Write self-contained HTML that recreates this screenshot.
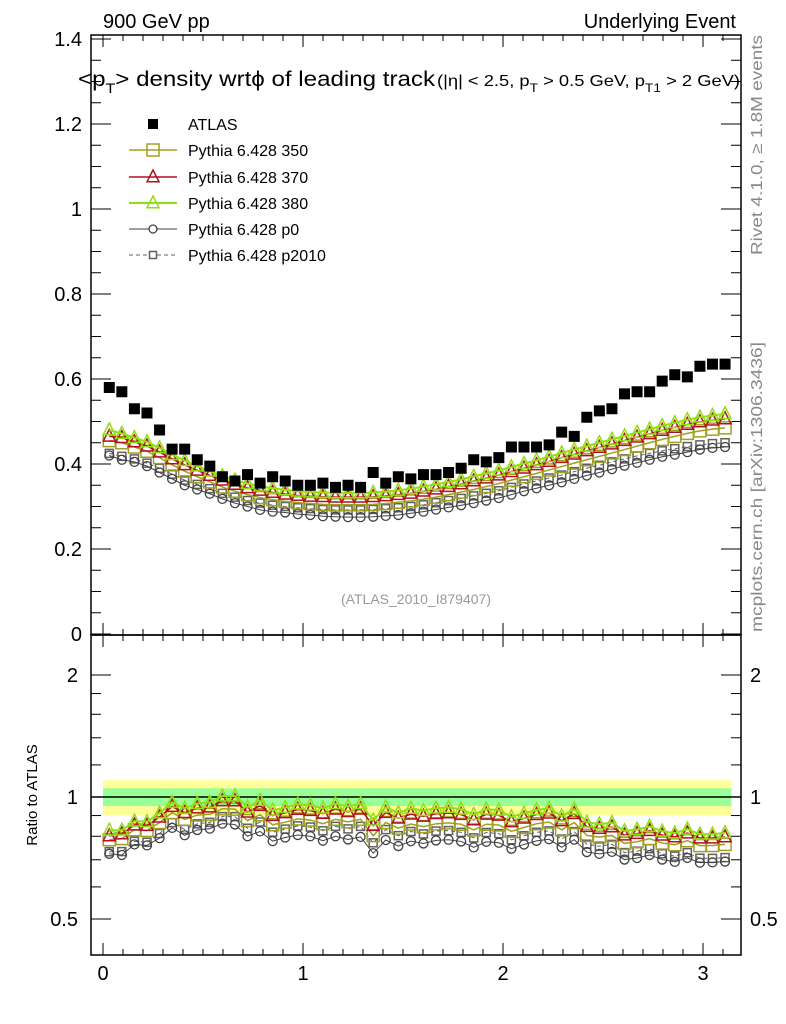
<!DOCTYPE html>
<html><head><meta charset="utf-8"><style>
body{margin:0;background:#fff;}
svg{display:block;font-family:"Liberation Sans",sans-serif;}
</style></head><body>
<svg id="chart" width="786" height="1024" viewBox="0 0 786 1024" xmlns="http://www.w3.org/2000/svg">
<g id="bands"></g>
<g id="axes"></g>
<g id="series"></g>
<g id="legend"></g>
<text x="103" y="28" font-size="20">900 GeV pp</text>
<text x="736" y="28" font-size="20" text-anchor="end">Underlying Event</text>
<text x="78" y="86" font-size="21" textLength="357" lengthAdjust="spacingAndGlyphs">&lt;p<tspan font-size="14" dy="7">T</tspan><tspan dy="-7">&gt; density wrt</tspan><tspan>ϕ of leading track</tspan></text>
<text x="437" y="86" font-size="16" textLength="303" lengthAdjust="spacingAndGlyphs">(|η| &lt; 2.5, p<tspan font-size="12" dy="6">T</tspan><tspan dy="-6"> &gt; 0.5 GeV, p</tspan><tspan font-size="12" dy="6">T1</tspan><tspan dy="-6"> &gt; 2 GeV)</tspan></text>
<text x="416" y="604" font-size="14" fill="#999" text-anchor="middle">(ATLAS_2010_I879407)</text>
<text transform="translate(762,145) rotate(-90)" font-size="16" fill="#888" text-anchor="middle" textLength="220" lengthAdjust="spacingAndGlyphs">Rivet 4.1.0, ≥ 1.8M events</text>
<text transform="translate(762,487) rotate(-90)" font-size="16" fill="#888" text-anchor="middle" textLength="290" lengthAdjust="spacingAndGlyphs">mcplots.cern.ch [arXiv:1306.3436]</text>
<text transform="translate(37,795) rotate(-90)" font-size="15" text-anchor="middle">Ratio to ATLAS</text>
</svg>
<script>
const atlas=[0.58,0.57,0.53,0.52,0.48,0.435,0.435,0.41,0.395,0.37,0.36,0.375,0.355,0.37,0.36,0.35,0.35,0.355,0.345,0.35,0.345,0.38,0.355,0.37,0.365,0.375,0.375,0.38,0.39,0.41,0.405,0.415,0.44,0.44,0.44,0.445,0.475,0.465,0.51,0.525,0.53,0.565,0.57,0.57,0.595,0.61,0.605,0.63,0.635,0.635];
const p0=[0.42,0.41,0.405,0.395,0.38,0.365,0.35,0.34,0.33,0.318,0.308,0.3,0.292,0.288,0.286,0.282,0.28,0.277,0.276,0.275,0.275,0.276,0.278,0.28,0.284,0.288,0.293,0.298,0.303,0.308,0.314,0.32,0.328,0.336,0.343,0.35,0.357,0.365,0.373,0.38,0.388,0.396,0.403,0.41,0.417,0.422,0.428,0.434,0.438,0.44];
const p2010=[0.425,0.418,0.412,0.402,0.39,0.376,0.362,0.352,0.342,0.331,0.322,0.314,0.308,0.303,0.3,0.297,0.295,0.293,0.292,0.292,0.292,0.293,0.295,0.297,0.3,0.304,0.309,0.314,0.319,0.325,0.331,0.337,0.345,0.353,0.36,0.367,0.374,0.382,0.39,0.397,0.405,0.412,0.419,0.425,0.431,0.436,0.441,0.445,0.448,0.45];
const t350=[0.455,0.45,0.44,0.43,0.415,0.398,0.383,0.37,0.358,0.346,0.336,0.328,0.321,0.316,0.312,0.309,0.307,0.305,0.304,0.304,0.304,0.305,0.307,0.31,0.313,0.317,0.322,0.328,0.334,0.34,0.347,0.354,0.362,0.37,0.378,0.386,0.394,0.402,0.41,0.418,0.426,0.434,0.442,0.45,0.458,0.465,0.472,0.478,0.482,0.485];
const t370=[0.465,0.462,0.452,0.442,0.428,0.412,0.398,0.385,0.373,0.362,0.352,0.344,0.338,0.333,0.329,0.326,0.324,0.323,0.322,0.322,0.322,0.323,0.325,0.328,0.331,0.336,0.341,0.347,0.353,0.36,0.367,0.374,0.382,0.39,0.398,0.406,0.415,0.423,0.431,0.439,0.447,0.455,0.463,0.471,0.479,0.486,0.493,0.499,0.503,0.506];
const t380=[0.48,0.472,0.462,0.452,0.438,0.422,0.408,0.395,0.383,0.372,0.362,0.354,0.348,0.343,0.339,0.336,0.334,0.333,0.332,0.332,0.332,0.333,0.335,0.338,0.342,0.347,0.352,0.358,0.364,0.371,0.378,0.385,0.393,0.401,0.409,0.417,0.426,0.434,0.442,0.45,0.458,0.466,0.474,0.482,0.49,0.497,0.504,0.51,0.514,0.518];
const yTicksMain=[0,0.2,0.4,0.6,0.8,1,1.2,1.4];
const yTickLabelsMain=["0","0.2","0.4","0.6","0.8","1","1.2","1.4"];
const yTicksRatio=[0.5,1,2];
const yTickLabelsRatio=["0.5","1","2"];
const xTicks=[0,1,2,3];
const xTickLabels=["0","1","2","3"];
const yellowBand=0.1, greenBand=0.05;

const NS="http://www.w3.org/2000/svg";
const L=91,R=741,T=35,MB=635,RB=955;
const xs=v=>103+200*v;
const ym=v=>634-425*v;
const yr=v=>797-122*Math.log2(v);
function mk(tag,attrs,parent){const e=document.createElementNS(NS,tag);for(const k in attrs)e.setAttribute(k,attrs[k]);parent.appendChild(e);return e;}
const axes=document.getElementById('axes'),series=document.getElementById('series'),bands=document.getElementById('bands'),legend=document.getElementById('legend');
const N=atlas.length,bw=Math.PI/N;
const xc=i=>(i+0.5)*bw;

let yb=mk('rect',{x:xs(0),y:yr(1+yellowBand),width:xs(Math.PI)-xs(0),height:yr(1-yellowBand)-yr(1+yellowBand),fill:'#ffff99'},bands);


let gb=mk('rect',{x:xs(0),y:yr(1+greenBand),width:xs(Math.PI)-xs(0),height:yr(1-greenBand)-yr(1+greenBand),fill:'#99ff99'},bands);


let ol=mk('line',{x1:L,x2:R,y1:yr(1),y2:yr(1),stroke:'#000','stroke-width':1.5},bands);



for(const [t,b] of [[T,MB],[MB,RB]]){
  let f=mk('rect',{x:L,y:t,width:R-L,height:b-t,fill:'none',stroke:'#000','stroke-width':1.5},axes);
  
  
}
for(let v=0;v<=3.15;v+=0.1){
  const maj=Math.abs(v-Math.round(v))<1e-6;const len=maj?12:6;const x=xs(v);
  for(const [t,b] of [[T,MB],[MB,RB]]){
    mk('line',{x1:x,x2:x,y1:b,y2:b-len,stroke:'#000'},axes);
    mk('line',{x1:x,x2:x,y1:t,y2:t+len,stroke:'#000'},axes);
  }
}
xTicks.forEach((v,i)=>{let t=mk('text',{x:xs(v),y:980,'font-size':20,'text-anchor':'middle'},axes);t.textContent=xTickLabels[i];

});
for(let k=0;k<=28;k++){const v=k*0.05;const maj=k%4==0;const len=maj?20:10;const y=ym(v);if(y<T)continue;
  mk('line',{x1:L,x2:L+len,y1:y,y2:y,stroke:'#000'},axes);mk('line',{x1:R,x2:R-len,y1:y,y2:y,stroke:'#000'},axes);}
yTicksMain.forEach((v,i)=>{let t=mk('text',{x:82,y:ym(v)+7,'font-size':20,'text-anchor':'end'},axes);t.textContent=yTickLabelsMain[i];

});
const rt=[0.5,0.6,0.7,0.8,0.9,1,1.2,1.4,1.6,1.8,2];
rt.forEach(v=>{const maj=(v==0.5||v==1||v==2);const len=maj?20:10;const y=yr(v);
  mk('line',{x1:L,x2:L+len,y1:y,y2:y,stroke:'#000'},axes);mk('line',{x1:R,x2:R-len,y1:y,y2:y,stroke:'#000'},axes);});
yTicksRatio.forEach((v,i)=>{
  let t=mk('text',{x:78,y:yr(v)+7,'font-size':20,'text-anchor':'end'},axes);t.textContent=yTickLabelsRatio[i];
  
  
  let t2=mk('text',{x:750,y:yr(v)+7,'font-size':20},axes);t2.textContent=yTickLabelsRatio[i];
  
  
});

function marker(g,type,x,y,col,s){
  if(type=='sq')mk('rect',{x:x-s,y:y-s,width:2*s,height:2*s,fill:'none',stroke:col,'stroke-width':1.5},g);
  else if(type=='tri')mk('polygon',{points:`${x},${y-s-1} ${x-s},${y+s*0.8} ${x+s},${y+s*0.8}`,fill:'none',stroke:col,'stroke-width':1.5},g);
  else if(type=='circ')mk('circle',{cx:x,cy:y,r:s,fill:'none',stroke:col,'stroke-width':1.3},g);
  else if(type=='fill')mk('rect',{x:x-s,y:y-s,width:2*s,height:2*s,fill:col},g);
}
const mcs=[
 {name:'p2010',data:p2010,col:'#606060',type:'sq',s:4,dash:'4,3',w:1},
 {name:'p0',data:p0,col:'#404040',type:'circ',s:4.5,dash:'',w:1},
 {name:'350',data:t350,col:'#a0a020',type:'sq',s:6,dash:'',w:1.5},
 {name:'370',data:t370,col:'#b01020',type:'tri',s:6,dash:'',w:1.5},
 {name:'380',data:t380,col:'#90e010',type:'tri',s:6,dash:'',w:2},
];
mcs.forEach(m=>{
  const g=mk('g',{},series);
  
  
  const pts=m.data.map((v,i)=>xs(xc(i))+','+ym(v)).join(' ');
  mk('polyline',{points:pts,fill:'none',stroke:m.col,'stroke-width':m.w,'stroke-dasharray':m.dash},g);
  const rp=m.data.map((v,i)=>xs(xc(i))+','+yr(v/atlas[i])).join(' ');
  mk('polyline',{points:rp,fill:'none',stroke:m.col,'stroke-width':m.w,'stroke-dasharray':m.dash},g);
  m.data.forEach((v,i)=>{marker(g,m.type,xs(xc(i)),ym(v),m.col,m.s);marker(g,m.type,xs(xc(i)),yr(v/atlas[i]),m.col,m.s);});
});
const ga=mk('g',{},series);


atlas.forEach((v,i)=>marker(ga,'fill',xs(xc(i)),ym(v),'#000',5.5));

const leg=[['ATLAS','fill','#000','',0],['Pythia 6.428 350','sq','#a0a020','',1.5],['Pythia 6.428 370','tri','#b01020','',1.5],['Pythia 6.428 380','tri','#90e010','',2],['Pythia 6.428 p0','circ','#404040','',1],['Pythia 6.428 p2010','sq','#606060','4,3',1]];
const legY=[124,150,177,203,229,255];
leg.forEach((l,i)=>{
  const g=mk('g',{},legend);
  
  
  const y=legY[i];
  if(l[4])mk('line',{x1:129,x2:177,y1:y,y2:y,stroke:l[2],'stroke-width':l[4],'stroke-dasharray':l[3]},g);
  const s=(i==0)?5:(i>=4?(i==4?4:3.5):6);
  marker(g,l[1],153,y,l[2],s);
  if(i>=4){g.lastChild.setAttribute('fill','#fff');}
  const t=mk('text',{x:188,y:y+6,'font-size':16},g);t.textContent=l[0];
});
</script>
</body></html>
